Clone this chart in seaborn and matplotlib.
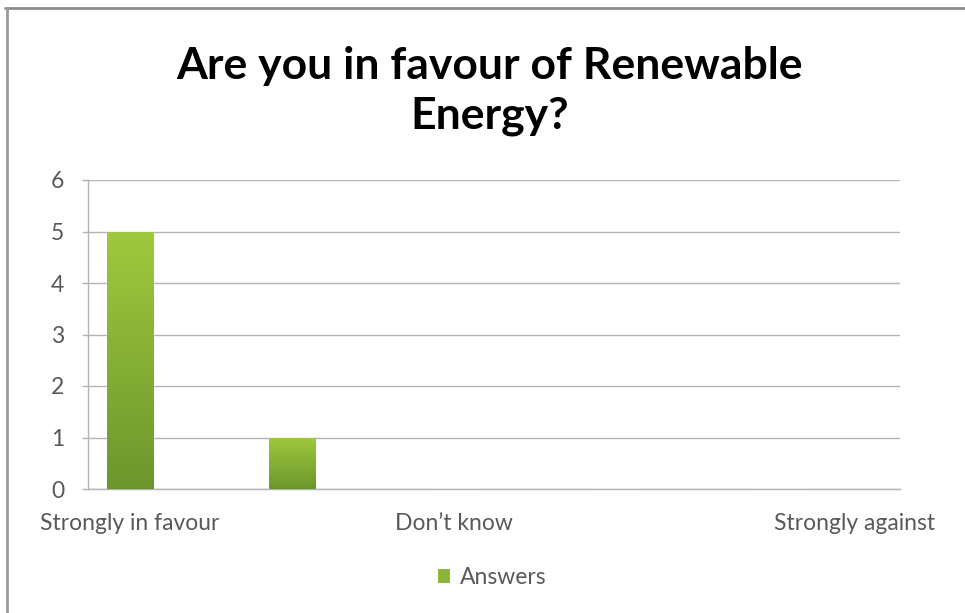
import numpy as np
import pandas as pd
import matplotlib
matplotlib.use("Agg")
import matplotlib.pyplot as plt
import matplotlib.transforms as mtransforms
from matplotlib.patches import Patch
from matplotlib.lines import Line2D
import seaborn as sns

# Survey responses
categories = ["Strongly in favour", "In favour", "Don\u2019t know", "Against", "Strongly against"]
answers = [5, 1, 0, 0, 0]
shown_labels = ["Strongly in favour", "", "Don\u2019t know", "", "Strongly against"]
y_ticks = [0, 1, 2, 3, 4, 5, 6]

title = "Are you in favour of Renewable\nEnergy?"
series_name = "Answers"

sns.set_theme(style="white")
plt.rcParams["font.family"] = ["Lato", "DejaVu Sans"]

df = pd.DataFrame({"Response": categories, "Answers": answers})

fig = plt.figure(figsize=(9.65, 6.13), dpi=100)
ax = fig.add_axes([88 / 965, 1 - 489 / 613, (900 - 88) / 965, (489 - 180) / 613])

sns.barplot(data=df, x="Response", y="Answers", order=categories,
            color="#86b035", width=0.284, ax=ax, zorder=3)

# vertical light-to-dark green shading inside each bar
top_c = np.array(matplotlib.colors.to_rgb("#a0c93e"))
bot_c = np.array(matplotlib.colors.to_rgb("#6c962c"))
grad = np.linspace(0, 1, 256)[:, None]
rgb = top_c[None, None, :] * (1 - grad[..., None]) + bot_c[None, None, :] * grad[..., None]
for p in list(ax.patches):
    h = p.get_height()
    if h <= 0:
        continue
    x0, w = p.get_x(), p.get_width()
    im = ax.imshow(rgb, extent=(x0, x0 + w, 0, h), origin="upper",
                   aspect="auto", zorder=4)
    im.set_clip_path(p)

ax.set_xlim(-0.259, 4.753)
ax.set_ylim(0, 6)
ax.set_yticks(y_ticks)
ax.set_yticklabels([str(v) for v in y_ticks])
ax.set_xticks(range(len(categories)))
ax.set_xticklabels(shown_labels)
ax.set_xlabel("")
ax.set_ylabel("")

grid_c = "#b3b3b3"
ax.yaxis.grid(True, color=grid_c, linewidth=1.0, zorder=1)
ax.xaxis.grid(False)
for side in ["top", "right"]:
    ax.spines[side].set_visible(False)
for side in ["left", "bottom"]:
    ax.spines[side].set_color(grid_c)
    ax.spines[side].set_linewidth(1.0)

label_size = 16.5
ax.tick_params(axis="y", which="major", left=True, length=4, width=1,
               color=grid_c, pad=13, labelsize=label_size, labelcolor="#595959")
ax.tick_params(axis="x", which="major", bottom=False, length=0, pad=17,
               labelsize=label_size, labelcolor="#595959")

# the right-most label sits inward of the chart edge
last = ax.get_xticklabels()[-1]
last.set_transform(last.get_transform() +
                   mtransforms.ScaledTranslation(0.77, 0, fig.dpi_scale_trans))

fig.text(490 / 965, 1 - 91 / 613, title, ha="center", va="center",
         fontsize=32, fontweight="bold", color="#000000", linespacing=1.3)

fig.legend(handles=[Patch(facecolor="#8cb53a", edgecolor="none", label=series_name)],
           loc="center", bbox_to_anchor=(492 / 965, 1 - 578 / 613),
           frameon=False, fontsize=label_size, handlelength=0.55, handleheight=0.55,
           handletextpad=0.4, labelcolor="#595959")

# chart frame (top and left edges)
fig.add_artist(Line2D([5 / 965, 1], [1 - 8 / 613, 1 - 8 / 613],
                      transform=fig.transFigure, color="#8c8c8c", linewidth=2))
fig.add_artist(Line2D([7 / 965, 7 / 965], [0, 1 - 8 / 613],
                      transform=fig.transFigure, color="#9a9a9a", linewidth=2))

fig.savefig("out.png", dpi=100, facecolor="white")
